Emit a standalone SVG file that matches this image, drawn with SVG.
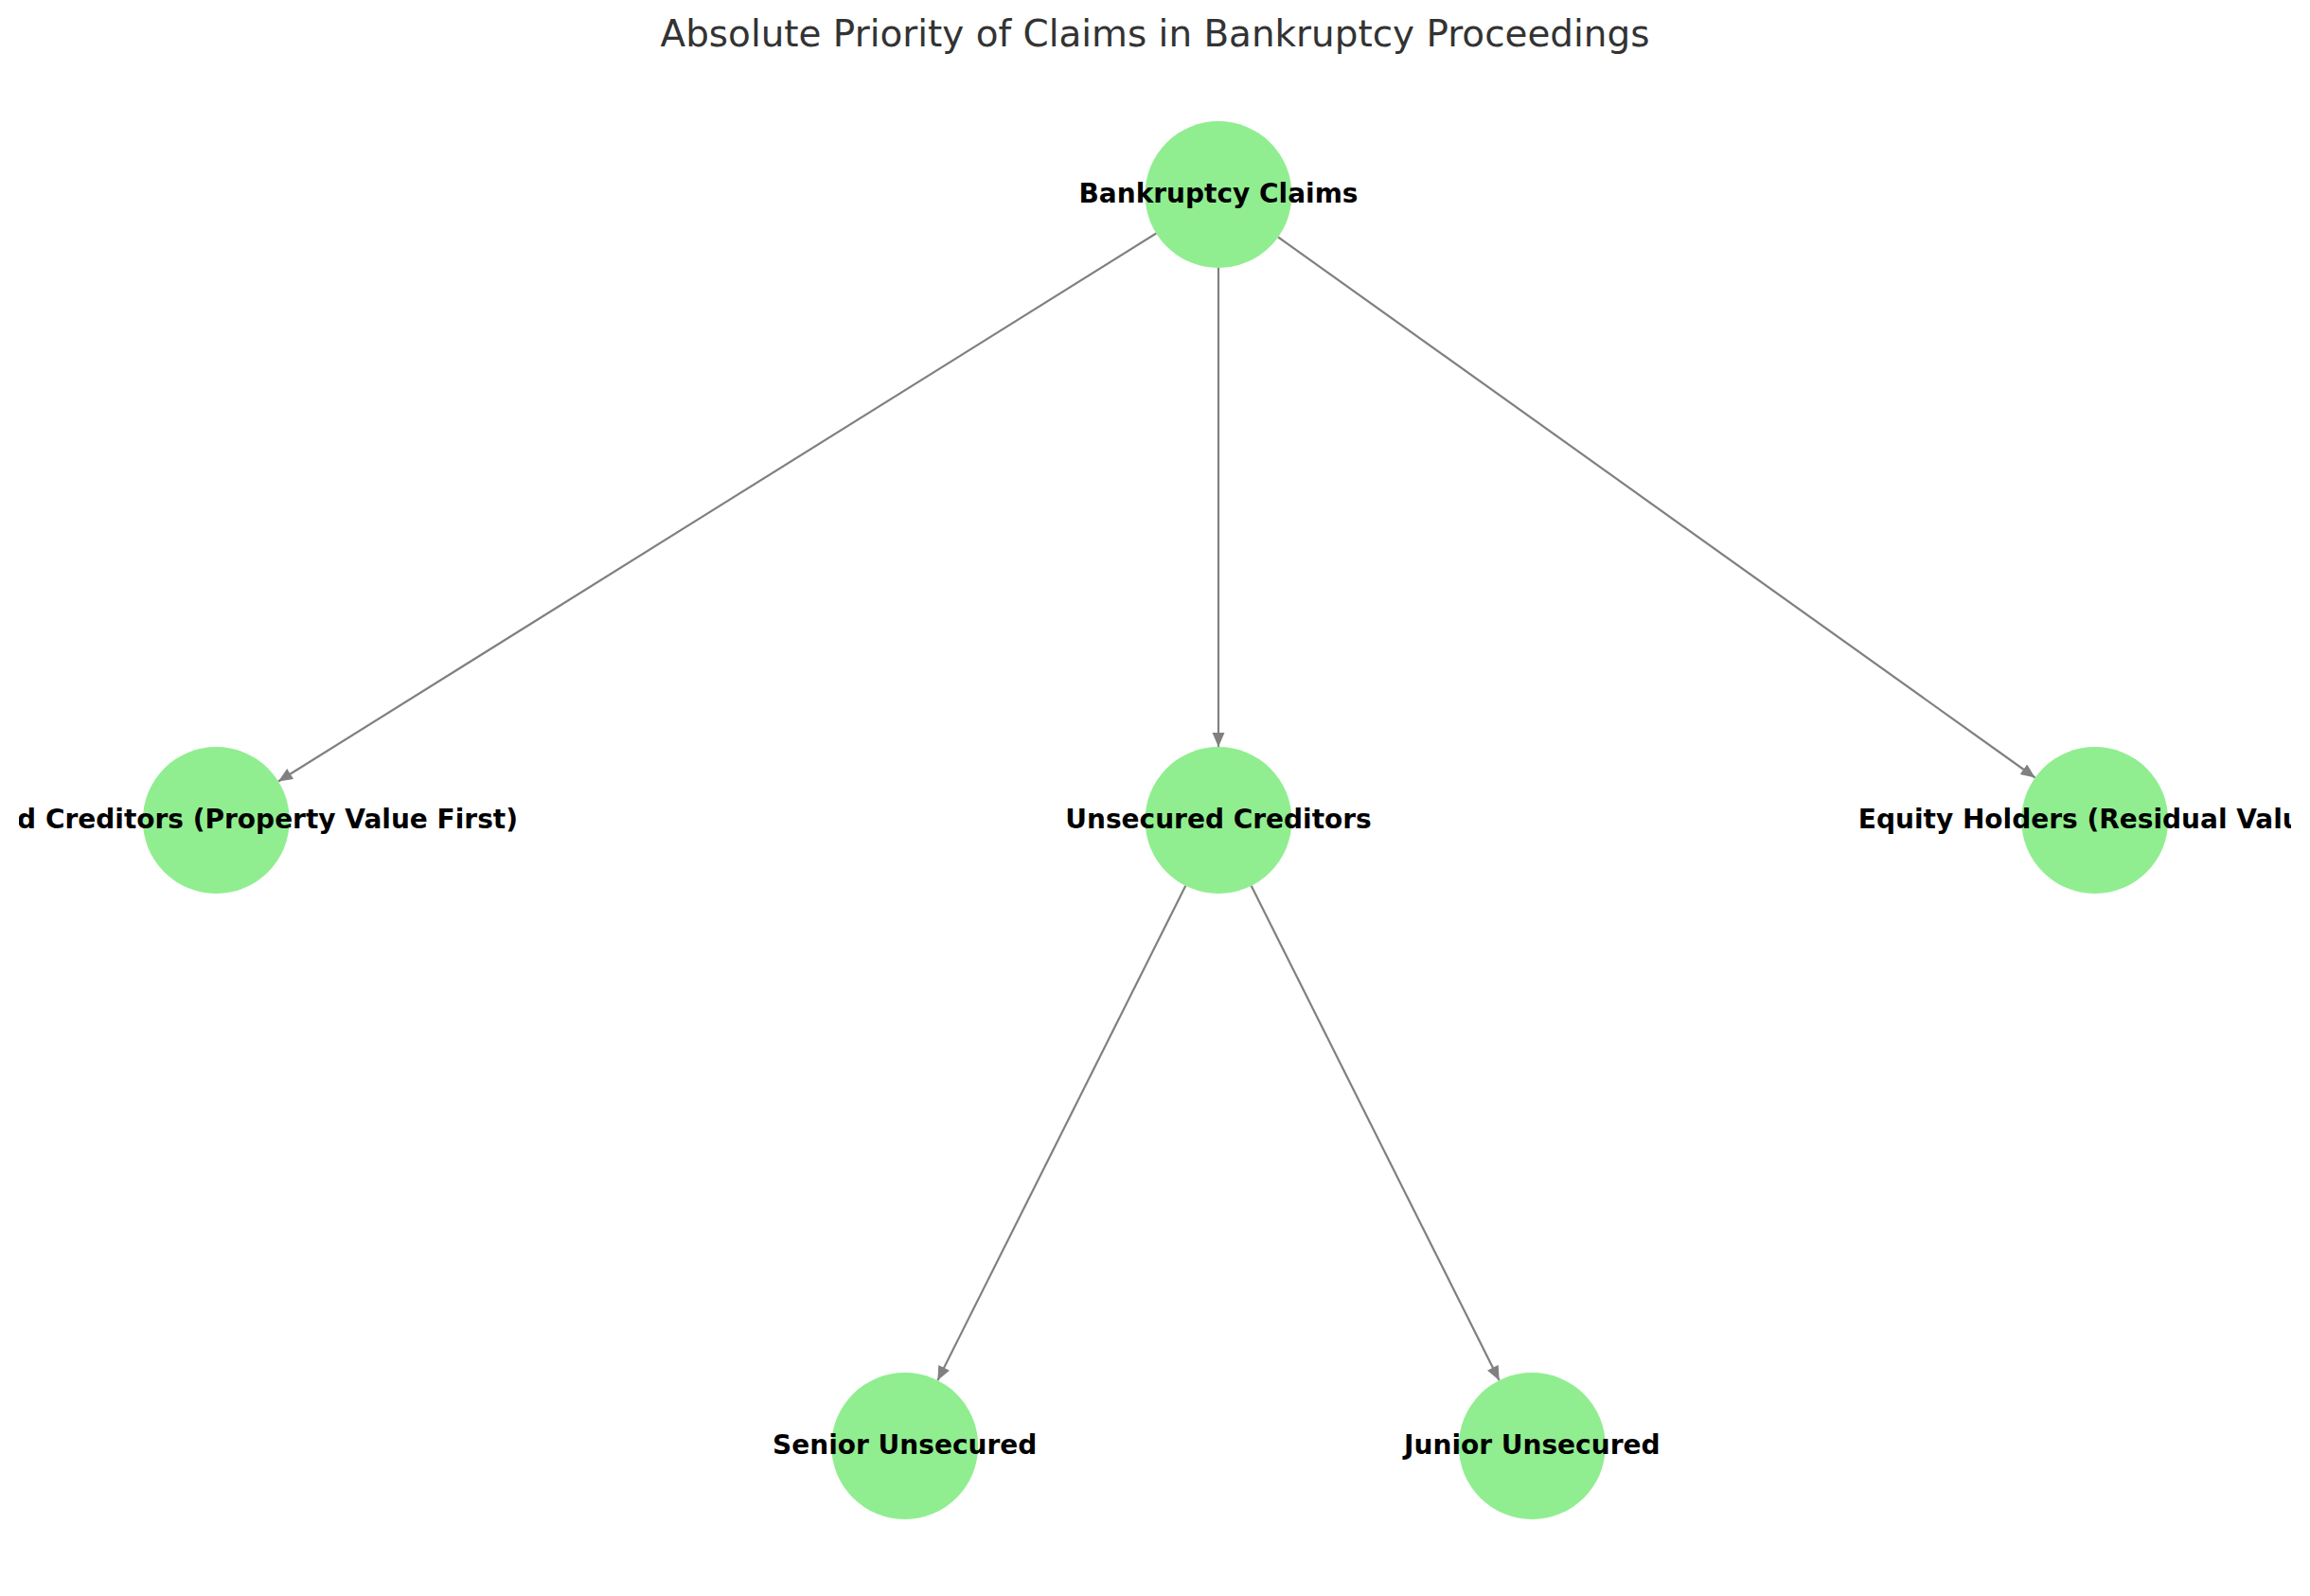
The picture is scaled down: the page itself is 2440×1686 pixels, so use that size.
<svg xmlns="http://www.w3.org/2000/svg" width="2440" height="1686" viewBox="0 0 2440 1686">
<style>
.node circle{fill:#90ee90;}
.node text{font-family:"DejaVu Sans",sans-serif;font-weight:bold;font-size:28px;fill:#000;text-anchor:middle;}
.title{font-family:"DejaVu Sans",sans-serif;font-size:38.9px;fill:#333333;text-anchor:middle;}
.edge{stroke:#808080;stroke-width:2.2;fill:none;marker-end:url(#arrow);}
</style>
<defs>
<marker id="arrow" markerUnits="userSpaceOnUse" markerWidth="16" markerHeight="14" refX="15" refY="6.5" orient="auto">
<path d="M0,0 L15,6.5 L0,13 z" fill="#808080"/>
</marker>
<clipPath id="plotclip">
<rect x="20" y="0" width="2400" height="1686"/>
</clipPath>
</defs>
<rect width="2440" height="1686" fill="#ffffff"/>
<text class="title" x="1220" y="49">Absolute Priority of Claims in Bankruptcy Proceedings</text>
<g id="connectors">
<path class="edge" d="M1221.3,246.5 L294,825.5"/>
<path class="edge" d="M1287,283 L1287,789"/>
<path class="edge" d="M1350.1,250.5 L2149.6,821.5"/>
<path class="edge" d="M1252.3,935.8 L990.4,1458.2"/>
<path class="edge" d="M1321.7,935.8 L1583.6,1458.2"/>
</g>
<g id="node-bankruptcy-claims" class="node">
<circle cx="1287" cy="205.5" r="77.5"/>
<text x="1287" y="214" clip-path="url(#plotclip)">Bankruptcy Claims</text>
</g>
<g id="node-secured-creditors" class="node">
<circle cx="228.3" cy="866.5" r="77.5"/>
<text x="228.3" y="875" clip-path="url(#plotclip)">Secured Creditors (Property Value First)</text>
</g>
<g id="node-unsecured-creditors" class="node">
<circle cx="1287" cy="866.5" r="77.5"/>
<text x="1287" y="875" clip-path="url(#plotclip)">Unsecured Creditors</text>
</g>
<g id="node-equity-holders" class="node">
<circle cx="2212.7" cy="866.5" r="77.5"/>
<text x="2212.7" y="875" clip-path="url(#plotclip)">Equity Holders (Residual Value)</text>
</g>
<g id="node-senior-unsecured" class="node">
<circle cx="955.7" cy="1527.5" r="77.5"/>
<text x="955.7" y="1536" clip-path="url(#plotclip)">Senior Unsecured</text>
</g>
<g id="node-junior-unsecured" class="node">
<circle cx="1618.3" cy="1527.5" r="77.5"/>
<text x="1618.3" y="1536" clip-path="url(#plotclip)">Junior Unsecured</text>
</g>
</svg>
